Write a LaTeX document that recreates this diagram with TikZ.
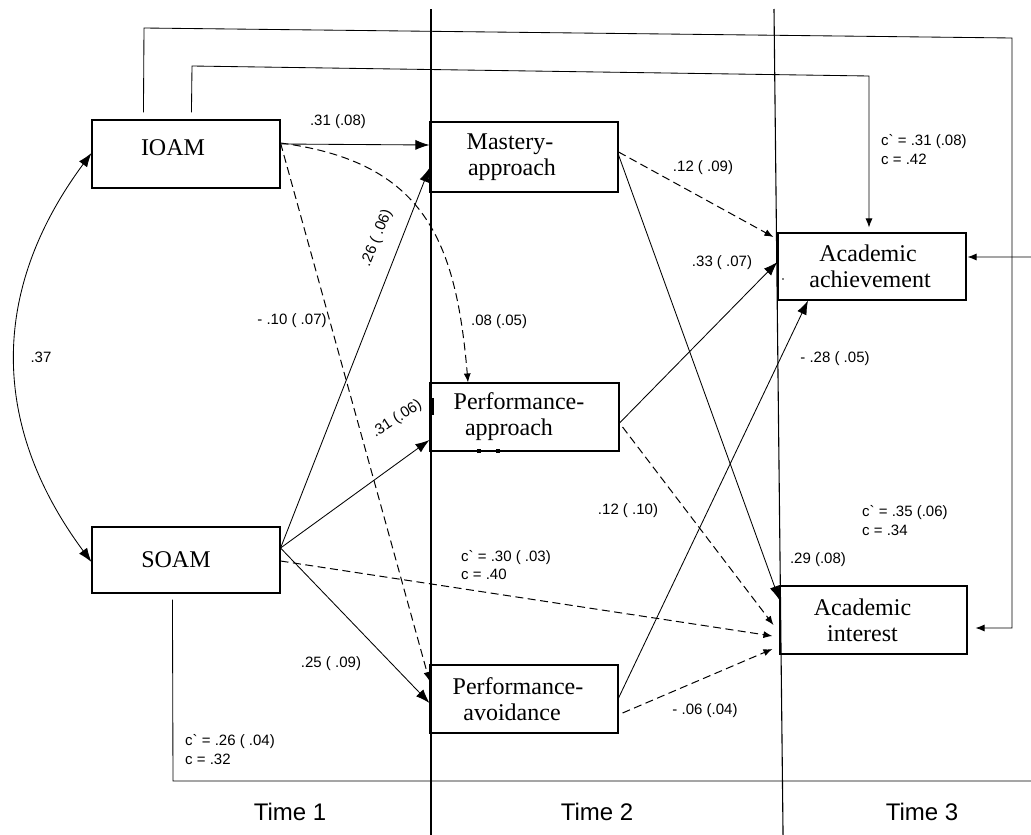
\documentclass[tikz,border=0pt]{standalone}
\usepackage{fontspec}
\setmainfont{Liberation Serif}
\newfontfamily\labfont[Ligatures=TeXOff]{Liberation Sans}
\usetikzlibrary{arrows.meta,calc}
\begin{document}
\begin{tikzpicture}[x=1pt,y=-1pt,
  box/.style={draw, line width=1.1pt, minimum width=188pt, minimum height=68pt, inner sep=0pt, align=center, font=\fontsize{24}{26}\selectfont},
  lab/.style={font=\labfont\fontsize{15}{18.5}\selectfont, inner sep=0pt},
  timelab/.style={font=\labfont\fontsize{24}{28}\selectfont, inner sep=0pt},
  conn/.style={line width=0.85pt},
  dsh/.style={line width=1pt, dash pattern=on 8pt off 4.5pt},
  tipbig/.style={-{Latex[length=14pt,width=10pt]}},
  tipsmall/.style={-{Latex[length=9pt,width=7pt]}},
  divider/.style={line width=1.1pt}
]
\useasboundingbox (0,0) rectangle (1031,835);

% time dividers
\draw[divider] (431,9) -- (431,840);
\draw[divider] (774,9) -- (783.1,840);

% boxes
\node[box,text depth=12pt] (ioam) at (186,154) {IOAM\kern26pt};
\node[box,minimum height=66pt] (soam) at (186,560) {SOAM\kern20pt};
\node[box,minimum height=70pt] (mas) at (524,157) {Mastery-\kern28pt\\approach\kern24pt};
\node[box,minimum width=189pt] (pap) at (524.5,417) {Performance-\kern11pt\\approach\kern31pt};
\node[box] (pav) at (524,699) {Performance-\kern12pt\\avoidance\kern24pt};
\node[box,minimum height=67pt] (ach) at (872,266.5) {Academic\kern8pt\\achievement\kern4pt};
\node[box,minimum width=187pt] (int) at (873.5,620) {Academic\kern22pt\\interest\kern22pt};

% small marks
\draw[line width=1.6pt] (433,398) -- (433,415);
\fill (477,449) rectangle (481,453);
\fill (496,449) rectangle (500,453);
\fill (783,279) circle (0.8);

% correlation
\draw[conn,{Latex[length=14pt,width=10pt]}-{Latex[length=14pt,width=10pt]}]
  (ioam.west |- 0,153) .. controls (-10,290) and (-10,425) .. (soam.west |- 0,562);

% IOAM paths
\draw[conn,tipbig] (ioam.east |- 0,144) -- (mas.west |- 0,145);
\draw[dsh,tipsmall] (ioam.east |- 0,143) .. controls (425,162) and (456,241) .. (468,0 |- pap.north);
\draw[dsh,tipsmall] (ioam.east |- 0,143) -- (pav.west |- 0,681);

% SOAM paths
\draw[conn,tipbig] (soam.east |- 0,548) -- (mas.west |- 0,168);
\draw[conn,tipbig] (soam.east |- 0,548) -- (pap.west |- 0,440);
\draw[conn,tipbig] (soam.east |- 0,548) -- (pav.west |- 0,703);
\draw[dsh,tipsmall] (soam.east |- 0,561) -- ($(int.west |- 0,636)+(-7,0)$);

% mediator paths
\draw[dsh,tipsmall] (mas.east |- 0,152) -- ($(ach.west |- 0,237)+(-4,0)$);
\draw[conn,tipbig] (mas.east |- 0,155) -- (int.west |- 0,600);
\draw[conn,tipbig] (pap.east |- 0,423) -- (ach.west |- 0,262);
\draw[dsh,tipsmall] ($(pap.east |- 0,427)+(3,0)$) -- ($(int.west |- 0,625)+(-6,0)$);
\draw[conn,tipbig] (pav.east |- 0,698) -- (808,0 |- ach.south);
\draw[dsh,tipsmall] ($(pav.east |- 0,713)+(4,0)$) -- ($(int.west |- 0,649)+(-7,0)$);

% direct effects
\draw[conn,tipsmall] ($(ioam.north west)+(52,-7)$) -- (144,28) -- (1012,38) -- (1012,628) -- ($(int.east |- 0,628)+(8,0)$);
\draw[conn,tipsmall] ($(ioam.north west)+(100,-7)$) -- (192,66) -- (869,76) -- ($(869,0 |- ach.north)+(0,-5)$);
\draw[conn,tipsmall] ($(soam.south west)+(81,6)$) -- (173,781) -- (1045,781) -- (1045,257) -- ($(ach.east |- 0,257)+(1,0)$);

% labels
\node[lab] (l1) at (338,122) {.31 (.08)};
\node[lab,anchor=west] (l2) at (471,322) {.08 (.05)};
\node[lab] (l3) at (292,321) {- .10 ( .07)};
\node[lab,rotate=68] (l4) at (377,238) {.26 ( .06)};
\node[lab,rotate=33] (l5) at (397,419) {.31 (.06)};
\node[lab] (l6) at (331,664) {.25 ( .09)};
\node[lab,align=left,anchor=west] (l7) at (461,565) {c` = .30 ( .03)\\c = .40};
\node[lab] (l8) at (703,168) {.12 ( .09)};
\node[lab] (l9) at (722,263) {.33 ( .07)};
\node[lab] (l10) at (628,511) {.12 ( .10)};
\node[lab] (l11) at (835,359) {- .28 ( .05)};
\node[lab] (l12) at (818,560) {.29 (.08)};
\node[lab] (l13) at (705,711) {- .06 (.04)};
\node[lab,align=left,anchor=west] (l14) at (881,149.5) {c` = .31 (.08)\\c = .42};
\node[lab,align=left,anchor=west] (l15) at (862,520.5) {c` = .35 (.06)\\c = .34};
\node[lab,align=left,anchor=west] (l16) at (185,749.5) {c` = .26 ( .04)\\c = .32};
\node[lab] (l17) at (41,357) {.37};

% time labels
\node[timelab] (t1) at (290,812) {Time 1};
\node[timelab] (t2) at (597,812) {Time 2};
\node[timelab] (t3) at (922,812) {Time 3};
\end{tikzpicture}
\end{document}
